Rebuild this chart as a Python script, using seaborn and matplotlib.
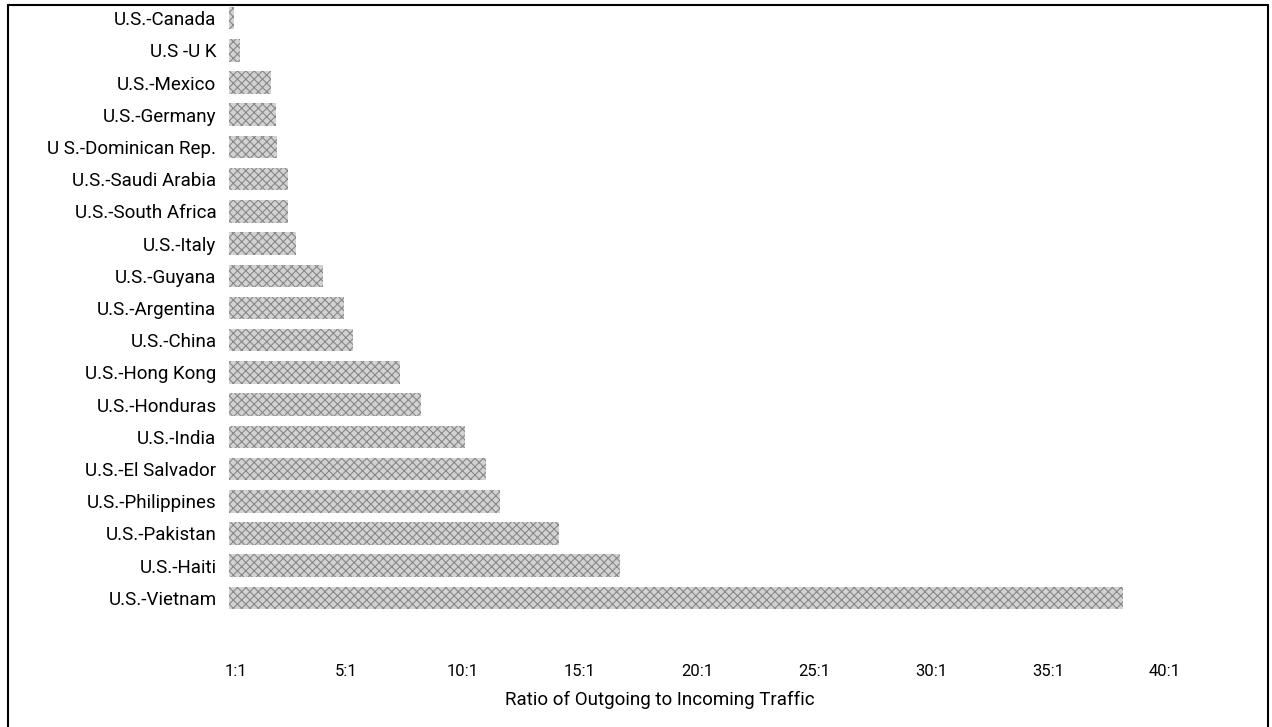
import pandas as pd
import matplotlib
matplotlib.use("Agg")
import matplotlib.pyplot as plt
from matplotlib.lines import Line2D
import seaborn as sns

# ==========================================
# 数据：美国与各国话务量之比（出话/入话）
# ==========================================
routes = [
    "U.S.-Canada", "U.S -U K", "U.S.-Mexico", "U.S.-Germany",
    "U S.-Dominican Rep.", "U.S.-Saudi Arabia", "U.S.-South Africa",
    "U.S.-Italy", "U.S.-Guyana", "U.S.-Argentina", "U.S.-China",
    "U.S.-Hong Kong", "U.S.-Honduras", "U.S.-India", "U.S.-El Salvador",
    "U.S.-Philippines", "U.S.-Pakistan", "U.S.-Haiti", "U.S.-Vietnam",
]
ratios = [0.2, 0.45, 1.8, 2.0, 2.05, 2.5, 2.5, 2.85, 4.0, 4.9, 5.3,
          7.3, 8.2, 10.1, 11.0, 11.6, 14.1, 16.7, 38.2]

tick_pos = [0.3, 5, 10, 15, 20, 25, 30, 35, 40]
tick_labels = ["1:1", "5:1", "10:1", "15:1", "20:1", "25:1", "30:1", "35:1", "40:1"]
x_title = "Ratio of Outgoing to Incoming Traffic"

df = pd.DataFrame({"route": routes, "ratio": ratios})

sns.set_theme(style="white")
plt.rcParams['font.family'] = ['Roboto', 'DejaVu Sans']
plt.rcParams['hatch.linewidth'] = 0.8
for key in ['text.color', 'axes.labelcolor', 'xtick.color', 'ytick.color']:
    plt.rcParams[key] = 'black'

W, H = 1272, 727
fig = plt.figure(figsize=(W / 100, H / 100), dpi=100)

# 坐标轴放置：0 位于 x=229px，每单位约 23.4px
px_unit = 23.4
x_max = 41
ax_left, ax_w = 229, x_max * px_unit
ax_top, ax_bot = 2, 614
ax = fig.add_axes([ax_left / W, 1 - ax_bot / H, ax_w / W, (ax_bot - ax_top) / H])

sns.barplot(data=df, y="route", x="ratio", orient="h", ax=ax,
            color="#d2d2d2", width=0.7, saturation=1)
for p in ax.patches:
    p.set_hatch("xxxx")
    p.set_edgecolor("#888888")
    p.set_linewidth(0)

ax.set_xlim(0, x_max)
ax.set_ylim(len(routes) - 0.5, -0.5)
ax.set_xticks(tick_pos)
ax.set_xticklabels(tick_labels)
ax.tick_params(axis="x", length=0, pad=36, labelsize=12)
ax.tick_params(axis="y", length=0, pad=9, labelsize=13.5)
ax.set_ylabel("")
ax.set_xlabel(x_title, fontsize=13.5)
ax.xaxis.set_label_coords((660 - ax_left) / ax_w, -(700 - ax_bot) / (ax_bot - ax_top))
ax.xaxis.label.set_va("center")
sns.despine(ax=ax, left=True, bottom=True)

# 外框
for xs, ys in [([8 / W, 8 / W], [0, 1 - 5 / H]),
               ([8 / W, 1268 / W], [1 - 5 / H, 1 - 5 / H]),
               ([1268 / W, 1268 / W], [1 - 5 / H, 0])]:
    fig.add_artist(Line2D(xs, ys, transform=fig.transFigure, color="black", lw=1.5))

fig.savefig("out.png", dpi=100)
